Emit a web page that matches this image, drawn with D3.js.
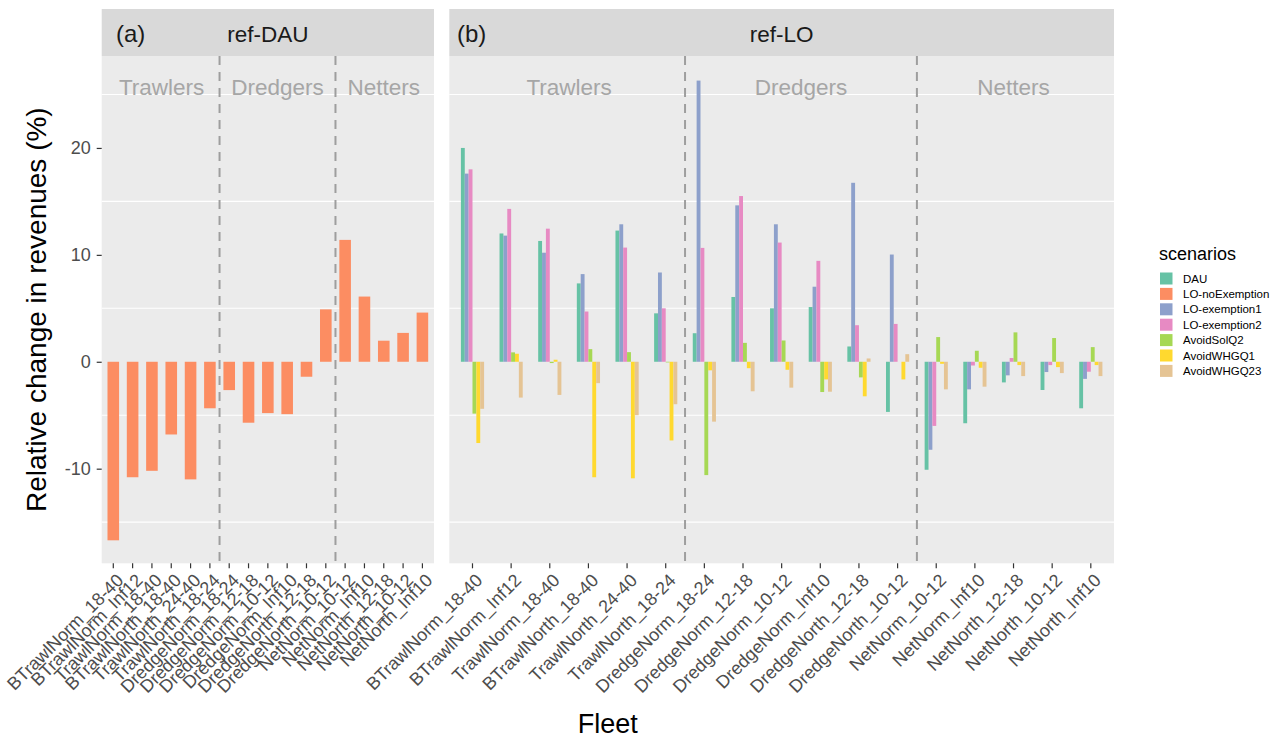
<!DOCTYPE html>
<html>
<head>
<meta charset="utf-8">
<script src="https://cdn.jsdelivr.net/npm/d3@7"></script>
<style>
  html, body { margin: 0; padding: 0; background: #ffffff; }
  svg { display: block; font-family: "Liberation Sans", Arial, sans-serif; }
</style>
</head>
<body>
<svg id="chart" width="1282" height="741"></svg>
<script>
// ---------------- DATA ----------------
const fleets = ["BTrawlNorm_18-40","BTrawlNorm_Inf12","TrawlNorm_18-40","BTrawlNorth_18-40","TrawlNorth_24-40","TrawlNorth_18-24",
  "DredgeNorm_18-24","DredgeNorm_12-18","DredgeNorm_10-12","DredgeNorm_Inf10","DredgeNorth_12-18","DredgeNorth_10-12",
  "NetNorm_10-12","NetNorm_Inf10","NetNorth_12-18","NetNorth_10-12","NetNorth_Inf10"];
const fleetGroup = ["Trawlers","Trawlers","Trawlers","Trawlers","Trawlers","Trawlers",
  "Dredgers","Dredgers","Dredgers","Dredgers","Dredgers","Dredgers",
  "Netters","Netters","Netters","Netters","Netters"];
const groupNames = ["Trawlers","Dredgers","Netters"];

const scenarios = ["DAU","LO-noExemption","LO-exemption1","LO-exemption2","AvoidSolQ2","AvoidWHGQ1","AvoidWHGQ23"];
const scenarioColors = ["#66C2A5","#FC8D62","#8DA0CB","#E78AC3","#A6D854","#FFD92F","#E5C494"];

// panel (a): ref-DAU
const refDAU_noExemption = [-16.7,-10.8,-10.2,-6.8,-11.0,-4.35,-2.65,-5.7,-4.8,-4.9,-1.4,4.9,11.4,6.1,1.97,2.7,4.6];

// panel (b): ref-LO
const refLO_DAU        = [20.0,12.0,11.3,7.33,12.27,4.53, 2.67,6.06,5.0,5.12,1.43,-4.69, -10.1,-5.75,-1.93,-2.64,-4.35];
const refLO_exemption1 = [17.6,11.8,10.2,8.2,12.86,8.35, 26.3,14.63,12.86,7.02,16.74,10.03, -8.23,-2.58,-1.27,-0.96,-1.6];
const refLO_exemption2 = [18.0,14.3,12.45,4.7,10.68,5.0, 10.65,15.5,11.15,9.44,3.42,3.54, -6.0,-0.35,0.35,-0.31,-0.93];
const refLO_AvoidSolQ2 = [-4.85,0.88,-0.12,1.18,0.9,-0.06, -10.6,1.77,1.99,-2.83,-1.46,0.0, 2.31,1.03,2.75,2.22,1.37];
const refLO_AvoidWHGQ1 = [-7.6,0.75,0.19,-10.8,-10.9,-7.36, -0.8,-0.6,-0.75,-1.65,-3.23,-1.65, -0.19,-0.56,-0.31,-0.5,-0.31];
const refLO_AvoidWHGQ23= [-4.4,-3.35,-3.1,-2.0,-5.0,-3.97, -5.6,-2.76,-2.42,-2.8,0.31,0.71, -2.58,-2.33,-1.34,-1.06,-1.34];

const yTicks = [-10, 0, 10, 20];
const yTickLabels = ["-10", "0", "10", "20"];
const yMinorGrid = [-15, -5, 5, 15, 25];

// ---------------- LAYOUT ----------------
const svg = d3.select("#chart");
const plotTop = 56, plotBottom = 563.3, stripTop = 9;
const panels = [
  { key: "a", tag: "(a)", title: "ref-DAU", x0: 101.7, x1: 434, tagX: 116,
    series: [{ name: "LO-noExemption", values: refDAU_noExemption }] },
  { key: "b", tag: "(b)", title: "ref-LO", x0: 449.3, x1: 1114, tagX: 457,
    series: [
      { name: "DAU", values: refLO_DAU },
      { name: "LO-exemption1", values: refLO_exemption1 },
      { name: "LO-exemption2", values: refLO_exemption2 },
      { name: "AvoidSolQ2", values: refLO_AvoidSolQ2 },
      { name: "AvoidWHGQ1", values: refLO_AvoidWHGQ1 },
      { name: "AvoidWHGQ23", values: refLO_AvoidWHGQ23 }
    ] }
];

const color = d3.scaleOrdinal().domain(scenarios).range(scenarioColors);
const y = d3.scaleLinear().domain([-18.85, 28.6]).range([plotBottom, plotTop]);

panels.forEach(p => {
  const g = svg.append("g");
  const x = d3.scaleBand().domain(fleets).range([p.x0, p.x1]).paddingInner(0.4).paddingOuter(0.3);
  // strip
  g.append("rect").attr("x", p.x0).attr("y", stripTop).attr("width", p.x1 - p.x0).attr("height", plotTop - stripTop).attr("fill", "#D9D9D9");
  g.append("text").attr("x", p.tagX).attr("y", 41.5).attr("font-size", 24).attr("fill", "#1a1a1a").text(p.tag);
  g.append("text").attr("x", (p.x0 + p.x1) / 2).attr("y", 41.5).attr("font-size", 22.5).attr("fill", "#1a1a1a")
    .attr("text-anchor", "middle").text(p.title);
  // panel bg
  g.append("rect").attr("x", p.x0).attr("y", plotTop).attr("width", p.x1 - p.x0).attr("height", plotBottom - plotTop).attr("fill", "#EBEBEB");
  // minor gridlines
  g.selectAll("line.grid").data(yMinorGrid).enter().append("line")
    .attr("x1", p.x0).attr("x2", p.x1).attr("y1", d => y(d)).attr("y2", d => y(d))
    .attr("stroke", "#ffffff").attr("stroke-width", 1.1);
  // group labels
  groupNames.forEach(gn => {
    const idx = fleets.map((f, i) => i).filter(i => fleetGroup[i] === gn);
    const cx = d3.mean(idx, i => x(fleets[i]) + x.bandwidth() / 2);
    g.append("text").attr("x", cx).attr("y", 94.5).attr("text-anchor", "middle")
      .attr("font-size", 22.5).attr("fill", "#A6A6A6").text(gn);
  });
  // dashed separators
  for (let i = 1; i < fleets.length; i++) {
    if (fleetGroup[i] !== fleetGroup[i - 1]) {
      const sx = (x(fleets[i - 1]) + x(fleets[i]) + x.bandwidth()) / 2;
      g.append("line").attr("x1", sx).attr("x2", sx).attr("y1", plotTop).attr("y2", plotBottom)
        .attr("stroke", "#9E9E9E").attr("stroke-width", 2).attr("stroke-dasharray", "9,7");
    }
  }
  // bars
  const xi = d3.scaleBand().domain(p.series.map(s => s.name)).range([0, x.bandwidth()]);
  p.series.forEach(s => {
    g.selectAll(null).data(s.values).enter().append("rect")
      .attr("x", (d, i) => x(fleets[i]) + xi(s.name))
      .attr("width", xi.bandwidth())
      .attr("y", d => y(Math.max(0, d)))
      .attr("height", d => Math.abs(y(d) - y(0)))
      .attr("fill", color(s.name));
  });
  // x axis
  const xAxis = g.append("g").attr("transform", `translate(0,${plotBottom})`)
    .call(d3.axisBottom(x).tickSize(5).tickSizeOuter(0).tickPadding(0));
  xAxis.select(".domain").remove();
  xAxis.selectAll(".tick line").attr("stroke", "#333333").attr("stroke-width", 1.2);
  xAxis.selectAll(".tick text")
    .attr("font-size", 18).attr("fill", "#4D4D4D").attr("font-family", "Liberation Sans, Arial, sans-serif")
    .attr("text-anchor", "end").attr("dy", "0.72em").attr("y", 0)
    .attr("transform", "translate(2,9) rotate(-45)");
});

// y axis (left of panel a)
const yAxis = svg.append("g").attr("transform", `translate(${panels[0].x0},0)`)
  .call(d3.axisLeft(y).tickValues(yTicks).tickSize(5).tickPadding(6)
    .tickFormat(d => yTickLabels[yTicks.indexOf(d)]));
yAxis.select(".domain").remove();
yAxis.selectAll(".tick line").attr("stroke", "#333333").attr("stroke-width", 1.2);
yAxis.selectAll(".tick text").attr("font-size", 18).attr("fill", "#4D4D4D").attr("font-family", "Liberation Sans, Arial, sans-serif");

// axis titles
svg.append("text").attr("transform", `translate(36,${(plotTop + plotBottom) / 2}) rotate(-90)`)
  .attr("text-anchor", "middle").attr("dy", "0.35em").attr("font-size", 28).attr("fill", "#000")
  .text("Relative change in revenues (%)");
svg.append("text").attr("x", (panels[0].x0 + panels[1].x1) / 2).attr("y", 733)
  .attr("text-anchor", "middle").attr("font-size", 27).attr("fill", "#000").text("Fleet");

// legend
const lg = svg.append("g");
lg.append("text").attr("x", 1159).attr("y", 260).attr("font-size", 18).attr("fill", "#000").text("scenarios");
const row = lg.selectAll("g.row").data(scenarios).enter().append("g")
  .attr("transform", (d, i) => `translate(1160,${272.5 + i * 15.4})`);
row.append("rect").attr("width", 12.5).attr("height", 12).attr("fill", d => color(d));
row.append("text").attr("x", 23).attr("y", 6).attr("dy", "0.35em").attr("font-size", 11.5).attr("fill", "#000").text(d => d);
</script>
</body>
</html>
